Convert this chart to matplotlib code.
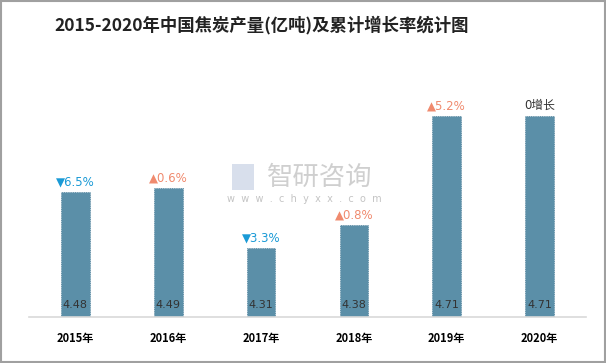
import matplotlib.pyplot as plt
from matplotlib.patches import Rectangle

plt.rcParams['font.family'] = ['Noto Sans CJK SC', 'DejaVu Sans']

years = ['2015年', '2016年', '2017年', '2018年', '2019年', '2020年']
output = [4.48, 4.49, 4.31, 4.38, 4.71, 4.71]
growth = ['▼6.5%', '▲0.6%', '▼3.3%', '▲0.8%', '▲5.2%', '0增长']
growth_colors = ['#1a9ad6', '#f08a6e', '#1a9ad6', '#f08a6e', '#f08a6e', '#333333']

fig = plt.figure(figsize=(6.06, 3.63), dpi=100)
ax = fig.add_axes([29 / 606, 0.1267, 557 / 606, 0.6364])

x = range(len(years))
ax.bar(x, output, width=0.31, bottom=0, color='#5b8fa8', edgecolor='#4f8099',
       linewidth=0.6, linestyle=':')
ax.set_xlim(-0.5, len(years) - 0.5)
ax.set_ylim(4.1, 4.8)

for i, v in enumerate(output):
    ax.text(i, 4.1 + 0.035, f'{v:.2f}', ha='center', va='center', fontsize=8,
            color='#333333', family='DejaVu Sans')
    ax.text(i, v + 0.03, growth[i], ha='center', va='center', fontsize=8.5,
            color=growth_colors[i], family=['DejaVu Sans', 'Noto Sans CJK SC'])

ax.set_xticks(list(x))
ax.set_xticklabels(years, fontsize=8, fontweight='bold')
ax.tick_params(axis='x', length=0, pad=11)
ax.set_yticks([])
for s in ['top', 'right', 'left']:
    ax.spines[s].set_visible(False)
ax.spines['bottom'].set_color('#d9d9d9')
ax.spines['bottom'].set_linewidth(1.2)

fig.text(262 / 606, 1 - 25 / 363, '2015-2020年中国焦炭产量(亿吨)及累计增长率统计图',
         ha='center', va='center', fontsize=12.5, fontweight='bold', color='#222222')

# watermark
fig.text(320 / 606, 1 - 177 / 363, '智研咨询', ha='center', va='center',
         fontsize=19, color='#c4c4c4', alpha=0.8)
fig.text(304 / 606, 1 - 199 / 363, 'w  w  w  .  c  h  y  x  x  .  c  o  m', ha='center',
         va='center', fontsize=7, color='#c4c4c4', family='DejaVu Sans')
fig.patches.append(Rectangle((232 / 606, 1 - 190 / 363), 22 / 606, 26 / 363,
                             transform=fig.transFigure, facecolor='#c8d2e4',
                             edgecolor='none', alpha=0.7))

fig.patches.append(Rectangle((0.001, 0.002), 0.997, 0.995, transform=fig.transFigure,
                             fill=False, edgecolor='#a0a0a0', linewidth=1.5))

fig.savefig('out.png', dpi=100)
